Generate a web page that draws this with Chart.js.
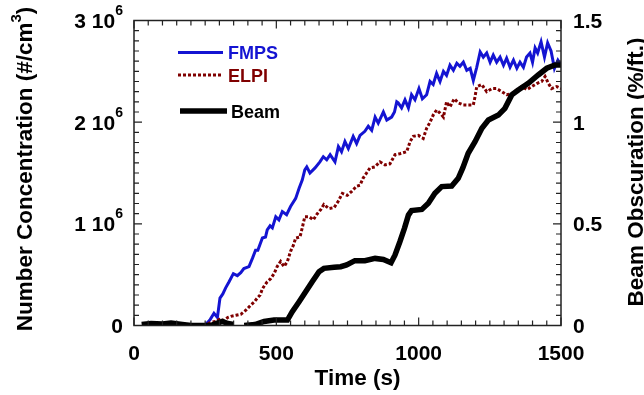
<!DOCTYPE html>
<html><head><meta charset="utf-8">
<script src="https://cdn.jsdelivr.net/npm/chart.js@4/dist/chart.umd.min.js"></script>
<style>html,body{margin:0;padding:0;background:#fff}canvas{display:block}</style>
</head><body>
<canvas id="c" width="644" height="395"></canvas>
<script>
// ---- data (concentration in 10^6 #/cm3, obscuration in %/ft.) ----
const fmpsTime = [30,80,120,160,200,240,252,268,281,293,302,312,322,334,349,363,375,386,404,416,427,435,451,462,468,478,486,498,509,521,536,550,568,580,591,600,607,618,636,653,665,677,689,706,718,729,741,753,770,782,794,811,823,835,847,858,876,888,905,915,923,928,940,952,964,975,987,1001,1013,1028,1040,1051,1063,1075,1087,1098,1110,1122,1134,1145,1157,1169,1181,1192,1204,1216,1227,1239,1251,1262,1274,1286,1298,1309,1321,1333,1345,1356,1368,1379,1391,1400,1409,1418,1430,1442,1453,1465,1477,1489,1500];
const fmpsConc = [0.0,0.01,0.0,0.01,0.0,0.0,0.01,0.06,0.12,0.08,0.27,0.31,0.37,0.43,0.51,0.49,0.52,0.56,0.58,0.66,0.74,0.74,0.86,0.87,0.94,0.98,0.96,1.07,1.04,1.12,1.09,1.17,1.25,1.35,1.43,1.53,1.56,1.50,1.55,1.61,1.66,1.63,1.68,1.61,1.76,1.71,1.81,1.74,1.86,1.79,1.87,1.91,1.96,1.92,2.05,1.99,2.10,2.02,2.05,2.10,2.20,2.19,2.14,2.22,2.14,2.27,2.22,2.33,2.23,2.27,2.40,2.37,2.48,2.40,2.50,2.46,2.56,2.51,2.58,2.55,2.59,2.51,2.53,2.41,2.54,2.69,2.64,2.68,2.59,2.66,2.59,2.64,2.56,2.63,2.54,2.61,2.53,2.59,2.54,2.64,2.68,2.59,2.73,2.68,2.79,2.64,2.78,2.70,2.53,2.61,2.56];

const elpiTime = [50,90,130,170,210,252,270,287,300,316,330,340,358,375,393,410,422,433,443,451,460,468,480,492,503,515,527,539,550,560,568,583,591,600,615,630,644,656,667,685,703,717,732,749,765,782,794,805,817,829,846,864,882,899,917,934,958,970,981,999,1016,1028,1040,1051,1063,1075,1087,1098,1110,1125,1139,1157,1175,1192,1198,1204,1222,1239,1257,1274,1292,1309,1327,1345,1362,1380,1397,1415,1432,1444,1456,1467,1485,1500];
const elpiConc = [0.0,0.01,0.0,0.01,0.0,0.01,0.03,0.04,0.06,0.05,0.08,0.09,0.10,0.11,0.15,0.20,0.23,0.27,0.30,0.36,0.40,0.43,0.46,0.51,0.58,0.63,0.58,0.63,0.73,0.79,0.86,0.87,0.96,1.07,1.07,1.04,1.10,1.14,1.19,1.15,1.16,1.22,1.30,1.28,1.32,1.37,1.38,1.45,1.50,1.55,1.56,1.61,1.58,1.59,1.68,1.69,1.71,1.81,1.86,1.87,1.84,1.94,2.00,2.07,2.12,2.09,2.05,2.20,2.15,2.23,2.19,2.17,2.17,2.17,2.25,2.35,2.37,2.30,2.33,2.33,2.30,2.27,2.28,2.32,2.35,2.32,2.35,2.38,2.40,2.45,2.38,2.33,2.35,2.33];

const beamTime = [27,60,100,130,170,200,235,269,290,310,330,350,368,387,425,457,492,539,556,580,603,626,650,667,703,726,747,776,811,847,876,903,917,934,950,964,975,1011,1034,1057,1081,1116,1139,1155,1174,1198,1222,1245,1280,1303,1327,1350,1385,1420,1450,1479,1500];
const beamObsc = [0.005,0.01,0.008,0.012,0.005,0.0,0.0,0.0,0.01,0.02,0.01,0.005,null,0.0,0.005,0.02,0.027,0.027,0.068,0.117,0.166,0.215,0.265,0.281,0.286,0.289,0.298,0.319,0.319,0.330,0.325,0.309,0.347,0.412,0.478,0.543,0.565,0.571,0.601,0.650,0.683,0.686,0.724,0.775,0.847,0.904,0.970,1.011,1.035,1.068,1.134,1.158,1.191,1.232,1.265,1.281,1.281];

const seriesNames = ['FMPS','ELPI','Beam'];
const xTickValues = [0,500,1000,1500];
const leftTickValues = [0,1,2,3];
const leftTickBase = ['0','1 10','2 10','3 10'];
const leftTickExp = ['','6','6','6'];
const rightTickValues = [0,0.5,1,1.5];
const rightTickLabels = ['0','0.5','1','1.5'];

// ---- styles ----
const FONT = "'Liberation Sans', Arial, Helvetica, sans-serif";
const BLUE = '#1414d2';
const RED = '#800000';
const BLACK = '#000000';

function pts(xs, ys){ return xs.map((x,i)=>({x:x, y:ys[i]})); }

function drawRich(ctx, parts, x, y, align){
  // parts: [{t, size, dy}]
  let total = 0;
  parts.forEach(p=>{ ctx.font = 'bold '+p.size+'px '+FONT; p.w = ctx.measureText(p.t).width; total += p.w; });
  let cx = align==='right' ? x-total : align==='center' ? x-total/2 : x;
  ctx.textAlign = 'left';
  ctx.textBaseline = 'alphabetic';
  parts.forEach(p=>{ ctx.font = 'bold '+p.size+'px '+FONT; ctx.fillText(p.t, cx, y+(p.dy||0)); cx += p.w; });
}

const decor = {
  id:'decor',
  afterDatasetsDraw(chart){
    const ctx = chart.ctx, a = chart.chartArea;
    const sx = chart.scales.x, sy = chart.scales.y, sy2 = chart.scales.y2;
    ctx.save();
    // frame
    ctx.strokeStyle = '#222'; ctx.lineWidth = 1.5;
    ctx.strokeRect(a.left, a.top, a.right-a.left, a.bottom-a.top);
    ctx.lineWidth = 1.2;
    ctx.beginPath();
    // x ticks (bottom + top)
    for(let v=0; v<=1500; v+=50){
      const px = sx.getPixelForValue(v);
      const len = (v%500===0) ? 8 : 5;
      ctx.moveTo(px, a.bottom); ctx.lineTo(px, a.bottom-len);
      ctx.moveTo(px, a.top); ctx.lineTo(px, a.top+len);
    }
    // left ticks
    for(let i=0;i<=30;i++){
      const v = i/10, py = sy.getPixelForValue(v);
      const len = (i%10===0) ? 8 : 5;
      ctx.moveTo(a.left, py); ctx.lineTo(a.left+len, py);
    }
    // right ticks
    for(let i=0;i<=30;i++){
      const v = i*0.05, py = sy2.getPixelForValue(v);
      const len = (i%10===0) ? 8 : 5;
      ctx.moveTo(a.right, py); ctx.lineTo(a.right-len, py);
    }
    ctx.stroke();

    ctx.fillStyle = '#000';
    // x tick labels
    ctx.font = 'bold 21px '+FONT; ctx.textAlign='center'; ctx.textBaseline='alphabetic';
    xTickValues.forEach(v=>{ ctx.fillText(String(v), sx.getPixelForValue(v), 360); });
    // left tick labels
    leftTickValues.forEach((v,i)=>{
      const py = sy.getPixelForValue(v);
      const parts = [{t:leftTickBase[i], size:21, dy:0}];
      if(leftTickExp[i]) parts.push({t:leftTickExp[i], size:14, dy:-13});
      drawRich(ctx, parts, a.left-11, py+7.5, 'right');
    });
    // right tick labels
    ctx.font = 'bold 21px '+FONT; ctx.textAlign='left';
    rightTickValues.forEach((v,i)=>{ ctx.fillText(rightTickLabels[i], a.right+12, sy2.getPixelForValue(v)+7.5); });

    // titles
    drawRich(ctx, [{t:'Time (s)', size:22.5}], 357.5, 385, 'center');
    ctx.save();
    ctx.translate(31.5, 169); ctx.rotate(-Math.PI/2);
    drawRich(ctx, [{t:'Number Concentration (#/cm', size:22.5},{t:'3', size:15, dy:-11},{t:')', size:22.5}], 0, 0, 'center');
    ctx.restore();
    ctx.save();
    ctx.translate(643, 172); ctx.rotate(-Math.PI/2);
    drawRich(ctx, [{t:'Beam Obscuration (%/ft.)', size:22.5}], 0, 0, 'center');
    ctx.restore();

    // legend
    const ds = chart.data.datasets;
    const leg = [
      {d:ds[0], x0:178, x1:223, y:52.5, tx:228, ty:59.3},
      {d:ds[1], x0:178, x1:222, y:75, tx:228, ty:81.8},
      {d:ds[2], x0:180, x1:227, y:111, tx:231, ty:117.6}
    ];
    leg.forEach(l=>{
      ctx.save();
      ctx.strokeStyle = l.d.borderColor; ctx.lineWidth = l.d.borderWidth;
      ctx.setLineDash(l.d.borderDash || []);
      ctx.lineCap = 'butt';
      ctx.beginPath(); ctx.moveTo(l.x0, l.y); ctx.lineTo(l.x1, l.y); ctx.stroke();
      ctx.restore();
      ctx.fillStyle = l.d.borderColor;
      ctx.font = 'bold 18px '+FONT; ctx.textAlign='left'; ctx.textBaseline='alphabetic';
      ctx.fillText(l.d.label, l.tx, l.ty);
    });
    ctx.restore();
  }
};

new Chart(document.getElementById('c'), {
  type:'line',
  data:{ datasets:[
    {label:seriesNames[0], data:pts(fmpsTime,fmpsConc), yAxisID:'y', borderColor:BLUE, borderWidth:3, pointRadius:0, tension:0, order:3},
    {label:seriesNames[1], data:pts(elpiTime,elpiConc), yAxisID:'y', borderColor:RED, borderWidth:3, borderDash:[3,2], pointRadius:0, tension:0, order:2},
    {label:seriesNames[2], data:pts(beamTime,beamObsc), yAxisID:'y2', borderColor:BLACK, borderWidth:5.5, pointRadius:0, tension:0, spanGaps:false, order:1}
  ]},
  options:{
    responsive:false, animation:false, devicePixelRatio:1,
    layout:{padding:{left:134, right:83, top:20.5, bottom:69.5}},
    plugins:{legend:{display:false}, tooltip:{enabled:false}},
    scales:{
      x:{type:'linear', min:0, max:1500, display:false},
      y:{min:0, max:3, display:false},
      y2:{min:0, max:1.5, display:false, position:'right'}
    }
  },
  plugins:[decor]
});
</script>
</body></html>
